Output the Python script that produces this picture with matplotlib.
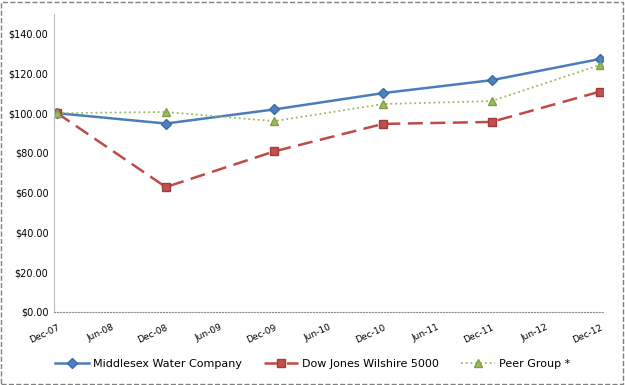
import matplotlib.pyplot as plt
from matplotlib.patches import Rectangle

# Data
tick_labels = ['Dec-07', 'Jun-08', 'Dec-08', 'Jun-09', 'Dec-09', 'Jun-10',
               'Dec-10', 'Jun-11', 'Dec-11', 'Jun-12', 'Dec-12']
dates = ['Dec-07', 'Dec-08', 'Dec-09', 'Dec-10', 'Dec-11', 'Dec-12']
middlesex = [100.0, 94.8, 101.9, 110.1, 116.6, 127.3]
dow_jones = [100.0, 62.8, 80.8, 94.6, 95.6, 110.9]
peer_group = [100.0, 100.6, 96.0, 104.6, 106.1, 124.3]

xpos = [tick_labels.index(d) for d in dates]

fig = plt.figure(figsize=(6.25, 3.85), dpi=100)
ax = fig.add_axes([0.0864, 0.19, 0.879, 0.774])

ax.plot(xpos, middlesex, color='#4A7EBB', lw=1.8, marker='D', ms=5,
        mfc='#4F81BD', mec='#3A6CA8', label='Middlesex Water Company')
ax.plot(xpos, dow_jones, color='#BE4B48', lw=1.8, ls=(0, (6, 3)), marker='s', ms=6,
        mfc='#C0504D', mec='#A03C3A', label='Dow Jones Wilshire 5000')
ax.plot(xpos, peer_group, color='#9BBB59', lw=1.3, ls=':', marker='^', ms=6,
        mfc='#9BBB59', mec='#7F9F45', label='Peer Group *')

ax.set_ylim(0, 150)
ax.set_yticks(range(0, 141, 20))
ax.set_yticklabels(['${:.2f}'.format(v) for v in range(0, 141, 20)], fontsize=7)
ax.set_xlim(-0.06, 10.06)
ax.set_xticks(range(len(tick_labels)))
ax.set_xticklabels(tick_labels, rotation=25, fontsize=6.5, ha='right',
                   rotation_mode='anchor')
ax.tick_params(length=0, pad=4)
ax.tick_params(axis='x', pad=8)

for s in ['top', 'right']:
    ax.spines[s].set_visible(False)
ax.spines['left'].set_color('#BFBFBF')
ax.spines['bottom'].set_color('#8C8C8C')
ax.spines['bottom'].set_linestyle(':')

fig.legend(loc='lower center', bbox_to_anchor=(0.5, 0.015), ncol=3, frameon=False,
           fontsize=8, handlelength=3.1, handletextpad=0.3, columnspacing=2.0)

fig.patches.append(Rectangle((0.002, 0.003), 0.995, 0.993, transform=fig.transFigure,
                             fill=False, ec='#808080', ls='--', lw=1))

fig.savefig('out.png', dpi=100)
